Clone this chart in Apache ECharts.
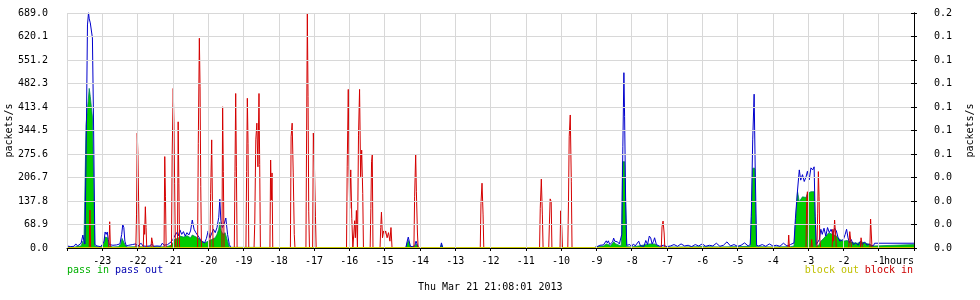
<!DOCTYPE html>
<html>
<head>
<meta charset="utf-8">
<script src="https://cdn.jsdelivr.net/npm/echarts@6/dist/echarts.min.js"></script>
<style>
html,body{margin:0;padding:0;background:#fff;}
#c{width:980px;height:300px;}
</style>
</head>
<body>
<div id="c"></div>
<script>
// x = hours relative to now, y = packets/s
var xTickLabels = ['-23','-22','-21','-20','-19','-18','-17','-16','-15','-14','-13','-12','-11','-10','-9','-8','-7','-6','-5','-4','-3','-2','-1'];
var leftTickLabels = ['0.0','68.9','137.8','206.7','275.6','344.5','413.4','482.3','551.2','620.1','689.0'];
var rightTickLabels = ['0.0','0.0','0.0','0.0','0.1','0.1','0.1','0.1','0.1','0.1','0.2'];

var passIn = [
[-24.00,3],[-23.90,4],[-23.80,2],[-23.70,5],[-23.60,6],[-23.55,20],[-23.52,10],[-23.48,5],[-23.46,361],[-23.40,430],[-23.37,468],[-23.34,444],[-23.31,449],[-23.28,384],[-23.24,384],[-23.21,5],
[-23.10,3],[-23.00,5],[-22.95,15],[-22.92,32],[-22.88,28],[-22.85,30],[-22.81,6],[-22.70,3],[-22.55,4],[-22.48,10],[-22.44,28],[-22.40,30],[-22.36,10],[-22.30,3],[-22.00,4],[-21.80,3],[-21.50,4],[-21.20,3],
[-21.05,8],[-21.00,15],[-20.95,26],[-20.90,30],[-20.85,28],[-20.80,35],[-20.70,32],[-20.60,36],[-20.50,30],[-20.45,38],[-20.40,33],[-20.30,30],[-20.20,22],[-20.10,15],[-20.00,20],[-19.95,18],[-19.90,25],[-19.80,30],[-19.75,40],[-19.70,55],[-19.67,76],[-19.63,50],[-19.58,40],[-19.52,45],[-19.45,20],[-19.40,2],[-19.35,0],
[-14.40,0],[-14.36,15],[-14.33,22],[-14.30,20],[-14.27,3],[-14.14,5],[-14.11,12],[-14.08,10],[-14.04,0],[-13.42,0],[-13.39,10],[-13.35,0],
[-9.10,0],[-9.00,3],[-8.90,5],[-8.80,6],[-8.72,12],[-8.66,10],[-8.60,6],[-8.51,18],[-8.45,12],[-8.40,8],[-8.30,6],[-8.28,43],[-8.26,253],[-8.20,253],[-8.17,132],[-8.14,4],
[-8.00,3],[-7.80,6],[-7.50,12],[-7.46,10],[-7.35,12],[-7.20,3],[-6.50,3],[-6.00,4],[-5.50,3],[-5.00,4],[-4.64,5],[-4.61,92],[-4.57,234],[-4.51,234],[-4.49,100],[-4.46,4],
[-4.00,3],[-3.50,4],[-3.40,6],[-3.35,88],[-3.30,165],[-3.25,136],[-3.21,140],[-3.16,150],[-3.11,145],[-3.06,148],[-3.02,160],[-2.97,155],[-2.92,165],[-2.87,170],[-2.83,165],[-2.80,88],[-2.77,5],
[-2.70,8],[-2.64,20],[-2.55,29],[-2.50,35],[-2.42,44],[-2.35,42],[-2.30,41],[-2.20,35],[-2.10,25],[-2.00,20],[-1.90,22],[-1.80,18],[-1.70,15],[-1.60,14],[-1.50,18],[-1.40,15],[-1.30,12],[-1.20,8],[-1.14,6],[-1.12,10],[0,10]
];

var passOut = [
[-24.00,6],[-23.95,10],[-23.90,4],[-23.85,8],[-23.80,5],[-23.75,12],[-23.70,6],[-23.65,9],[-23.60,14],[-23.55,38],[-23.52,20],[-23.49,12],[-23.47,15],[-23.45,361],[-23.42,654],[-23.39,690],[-23.37,672],[-23.34,660],[-23.31,665],[-23.28,616],[-23.25,384],[-23.23,384],[-23.21,10],
[-23.15,6],[-23.10,8],[-23.05,4],[-23.00,10],[-22.95,20],[-22.92,47],[-22.89,40],[-22.86,47],[-22.83,25],[-22.80,10],[-22.75,6],[-22.70,8],[-22.65,5],[-22.60,9],[-22.55,6],[-22.50,12],[-22.45,40],[-22.42,69],[-22.39,60],[-22.36,20],[-22.32,6],
[-22.25,8],[-22.20,4],[-22.15,10],[-22.10,6],[-22.05,12],[-22.00,5],[-21.95,8],[-21.90,14],[-21.85,6],[-21.80,10],[-21.75,5],[-21.70,8],[-21.65,6],[-21.60,12],[-21.55,5],[-21.50,8],[-21.45,6],[-21.40,10],[-21.35,5],[-21.30,14],[-21.25,8],[-21.20,6],[-21.15,10],[-21.10,12],
[-21.05,18],[-21.00,25],[-20.95,30],[-20.90,45],[-20.85,35],[-20.80,53],[-20.75,40],[-20.70,48],[-20.65,35],[-20.60,45],[-20.55,38],[-20.50,50],[-20.45,82],[-20.40,55],[-20.35,45],[-20.30,40],[-20.25,30],[-20.20,20],[-20.15,25],[-20.10,15],[-20.05,28],[-20.00,50],
[-19.95,30],[-19.90,35],[-19.85,55],[-19.80,45],[-19.75,60],[-19.70,90],[-19.67,143],[-19.64,80],[-19.60,60],[-19.55,70],[-19.50,88],[-19.45,40],[-19.40,10],[-19.35,0],
[-14.40,0],[-14.36,20],[-14.33,32],[-14.30,30],[-14.27,5],[-14.20,3],[-14.14,10],[-14.11,20],[-14.08,15],[-14.04,0],[-13.42,0],[-13.39,15],[-13.35,0],
[-9.10,0],[-9.00,3],[-8.95,6],[-8.90,8],[-8.85,10],[-8.80,9],[-8.75,12],[-8.72,21],[-8.69,15],[-8.66,21],[-8.62,10],[-8.58,12],[-8.54,18],[-8.51,29],[-8.48,20],[-8.45,15],[-8.40,18],[-8.35,12],[-8.30,10],
[-8.28,40],[-8.25,297],[-8.22,514],[-8.20,385],[-8.17,132],[-8.14,8],[-8.10,5],[-8.05,10],[-8.00,4],[-7.95,12],[-7.90,6],[-7.85,8],[-7.80,20],[-7.75,6],[-7.70,8],[-7.65,5],[-7.60,22],[-7.55,10],[-7.50,35],[-7.46,29],[-7.42,12],[-7.38,20],[-7.35,30],[-7.30,10],[-7.25,8],
[-7.20,5],[-7.10,8],[-7.00,4],[-6.90,6],[-6.80,10],[-6.70,5],[-6.60,12],[-6.50,6],[-6.40,8],[-6.30,4],[-6.20,10],[-6.10,6],[-6.00,12],[-5.90,5],[-5.80,8],[-5.70,6],[-5.60,14],[-5.50,5],[-5.40,8],[-5.30,18],[-5.20,6],[-5.10,10],[-5.00,5],[-4.90,8],[-4.80,15],[-4.70,6],
[-4.64,10],[-4.61,92],[-4.57,317],[-4.53,451],[-4.50,234],[-4.46,8],[-4.40,6],[-4.30,10],[-4.20,5],[-4.10,12],[-4.00,6],[-3.90,8],[-3.80,5],[-3.70,14],[-3.60,6],[-3.50,10],[-3.45,5],[-3.40,15],
[-3.36,87],[-3.30,170],[-3.25,229],[-3.21,199],[-3.16,215],[-3.11,195],[-3.06,208],[-3.02,225],[-2.97,200],[-2.92,235],[-2.87,229],[-2.83,238],[-2.80,92],[-2.77,10],[-2.72,8],[-2.68,25],
[-2.64,55],[-2.60,40],[-2.55,58],[-2.50,35],[-2.45,60],[-2.40,45],[-2.35,55],[-2.30,40],[-2.25,58],[-2.20,50],[-2.15,30],[-2.10,20],[-2.05,15],[-2.00,25],[-1.95,40],[-1.91,55],[-1.87,30],[-1.83,15],[-1.78,25],[-1.72,10],[-1.65,15],[-1.58,8],[-1.52,20],[-1.46,10],[-1.40,18],[-1.33,8],[-1.27,12],[-1.20,6],[-1.14,8],[-1.12,14],[0,14]
];

var blockIn = [
[-24.00,0],[-23.37,0],[-23.35,111],[-23.33,0],
[-22.82,0],[-22.80,40],[-22.79,77],[-22.77,0],
[-22.05,0],[-22.03,97],[-22.01,337],[-21.99,273],[-21.97,131],[-21.95,0],
[-21.84,0],[-21.82,68],[-21.80,40],[-21.78,121],[-21.76,60],[-21.74,0],
[-21.62,0],[-21.60,30],[-21.57,25],[-21.55,0],
[-21.25,0],[-21.23,268],[-21.21,150],[-21.19,0],
[-21.04,0],[-21.02,273],[-20.99,468],[-20.97,370],[-20.95,190],[-20.93,0],
[-20.87,0],[-20.85,370],[-20.83,190],[-20.81,0],
[-20.30,0],[-20.28,307],[-20.25,615],[-20.23,473],[-20.21,180],[-20.19,0],
[-19.95,0],[-19.93,160],[-19.90,317],[-19.88,141],[-19.86,0],
[-19.61,0],[-19.59,414],[-19.57,224],[-19.55,0],
[-19.26,0],[-19.24,224],[-19.22,453],[-19.20,238],[-19.18,0],
[-18.93,0],[-18.91,224],[-18.89,439],[-18.87,307],[-18.85,0],
[-18.70,0],[-18.68,73],[-18.65,317],[-18.62,366],[-18.59,238],[-18.56,453],[-18.54,245],[-18.52,0],
[-18.25,0],[-18.23,258],[-18.21,141],[-18.19,220],[-18.17,0],
[-17.67,0],[-17.65,326],[-17.62,366],[-17.59,220],[-17.56,40],[-17.54,0],
[-17.23,0],[-17.21,346],[-17.19,689],[-17.17,444],[-17.15,106],[-17.13,0],
[-17.04,0],[-17.02,337],[-16.99,249],[-16.96,92],[-16.94,0],
[-16.08,0],[-16.06,238],[-16.03,465],[-16.01,238],[-15.99,116],[-15.96,229],[-15.93,87],[-15.90,0],[-15.85,80],[-15.83,30],[-15.80,110],[-15.77,0],
[-15.76,0],[-15.74,331],[-15.71,465],[-15.68,209],[-15.65,287],[-15.62,160],[-15.60,0],
[-15.41,0],[-15.39,116],[-15.37,253],[-15.35,273],[-15.33,0],
[-15.13,0],[-15.11,60],[-15.09,105],[-15.06,30],[-15.03,50],[-15.00,40],[-14.97,50],[-14.93,30],[-14.89,45],[-14.85,20],[-14.82,60],[-14.79,0],
[-14.17,0],[-14.15,150],[-14.12,275],[-14.10,165],[-14.07,44],[-14.05,0],
[-12.29,0],[-12.27,131],[-12.24,190],[-12.21,97],[-12.19,0],
[-10.61,0],[-10.59,116],[-10.56,202],[-10.53,97],[-10.51,0],
[-10.35,0],[-10.33,73],[-10.31,144],[-10.28,136],[-10.26,0],
[-10.03,0],[-10.01,109],[-9.98,62],[-9.96,0],
[-9.81,0],[-9.79,136],[-9.77,326],[-9.74,390],[-9.71,194],[-9.69,0],
[-7.16,0],[-7.14,62],[-7.11,79],[-7.08,44],[-7.06,0],
[-3.57,0],[-3.55,38],[-3.53,0],
[-3.06,0],[-3.04,141],[-3.02,165],[-3.00,40],[-2.98,0],
[-2.92,0],[-2.90,25],[-2.88,0],
[-2.75,0],[-2.73,100],[-2.71,224],[-2.69,150],[-2.67,30],[-2.65,0],
[-2.32,0],[-2.30,55],[-2.28,20],[-2.25,82],[-2.22,38],[-2.20,0],
[-1.85,0],[-1.82,48],[-1.79,20],[-1.77,0],
[-1.52,0],[-1.50,30],[-1.48,32],[-1.46,0],
[-1.25,0],[-1.23,85],[-1.21,88],[-1.19,0],
[0,0]
];

var blockOut = [[-24,0],[0,0]];

var FONT = '"DejaVu Sans Mono", monospace';
var chart = echarts.init(document.getElementById('c'), null, {renderer:'canvas'});
var option = {
  animation: false,
  backgroundColor: '#ffffff',
  textStyle: {fontFamily: FONT, fontSize: 10, color: '#000'},
  grid: {left: 67, right: 66, top: 13, bottom: 52, containLabel: false, outerBoundsMode: 'none'},
  xAxis: {
    type: 'value', min: -24, max: 0, interval: 1, z: 3,
    axisLine: {show: true, onZero: false, lineStyle: {color: '#000', width: 1}},
    axisTick: {show: true, length: 3, lineStyle: {color: '#000'}},
    minorTick: {show: true, splitNumber: 3, length: 1, lineStyle: {color: '#000'}},
    axisLabel: {
      margin: 8, fontFamily: FONT, fontSize: 10, color: '#000',
      formatter: function (v) { var i = Math.round(v) + 23; return (i >= 0 && i < xTickLabels.length) ? xTickLabels[i] : ''; }
    },
    splitLine: {show: true, lineStyle: {color: '#d8d8d8', width: 1}}
  },
  yAxis: [
    {
      type: 'value', min: 0, max: 689, interval: 68.9, position: 'left', z: 3,
      name: 'packets/s', nameLocation: 'middle', nameGap: 53, nameRotate: 90, nameMoveOverlap: false,
      nameTextStyle: {fontFamily: FONT, fontSize: 10, color: '#000'},
      axisLine: {show: true, lineStyle: {color: '#000'}},
      axisTick: {show: true, length: 3, lineStyle: {color: '#000'}},
      axisLabel: {margin: 19, fontFamily: FONT, fontSize: 10, color: '#000',
        formatter: function (v) { return leftTickLabels[Math.round(v / 68.9)]; }},
      splitLine: {show: true, lineStyle: {color: '#d8d8d8', width: 1}}
    },
    {
      type: 'value', min: 0, max: 0.16, interval: 0.016, position: 'right', z: 3,
      name: 'packets/s', nameLocation: 'middle', nameGap: 51, nameRotate: 90, nameMoveOverlap: false,
      nameTextStyle: {fontFamily: FONT, fontSize: 10, color: '#000'},
      axisLine: {show: true, lineStyle: {color: '#000'}},
      axisTick: {show: true, length: 3, lineStyle: {color: '#000'}},
      axisLabel: {margin: 20, fontFamily: FONT, fontSize: 10, color: '#000',
        formatter: function (v) { return rightTickLabels[Math.round(v / 0.016)]; }},
      splitLine: {show: false}
    }
  ],
  series: [
    {name: 'pass in', type: 'line', data: passIn, symbol: 'none', z: 2,
      lineStyle: {color: '#008060', width: 0.8}, areaStyle: {color: '#00cc00', opacity: 1}},
    {name: 'pass out', type: 'line', data: passOut, symbol: 'none', z: 2,
      lineStyle: {color: '#0000cc', width: 1}},
    {name: 'block in', type: 'line', data: blockIn, symbol: 'none', z: 2,
      lineStyle: {color: '#d40000', width: 1}},
    {name: 'block out', type: 'line', data: blockOut, symbol: 'none', z: 2,
      lineStyle: {color: '#cccc00', width: 2}}
  ],
  graphic: [
    {type: 'text', left: 67, top: 265, style: {text: 'pass in', fill: '#00b000', font: '10px ' + FONT}},
    {type: 'text', left: 67 + 48, top: 265, style: {text: 'pass out', fill: '#0000b0', font: '10px ' + FONT}},
    {type: 'text', right: 980 - 913 + 54, top: 265, style: {text: 'block out', fill: '#c0c000', font: '10px ' + FONT}},
    {type: 'text', right: 980 - 913, top: 265, style: {text: 'block in', fill: '#cc0000', font: '10px ' + FONT}},
    {type: 'text', left: 884, top: 256, style: {text: 'hours', fill: '#000', font: '10px ' + FONT}},
    {type: 'text', left: 418, top: 282, style: {text: 'Thu Mar 21 21:08:01 2013', fill: '#000', font: '10px ' + FONT}}
  ]
};
chart.setOption(option);
</script>
</body>
</html>
